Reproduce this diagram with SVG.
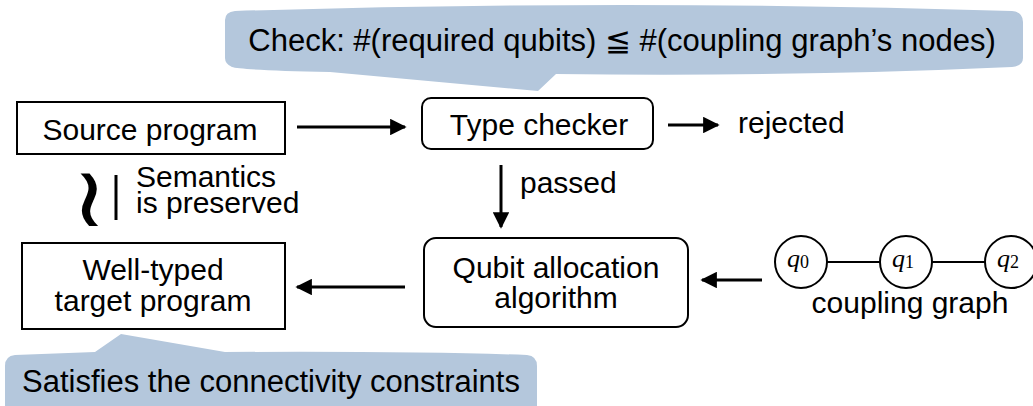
<svg xmlns="http://www.w3.org/2000/svg" width="1033" height="406" viewBox="0 0 1033 406">
<defs>
<style>
.t{font-family:"Liberation Sans",Arial,sans-serif;font-size:30px;fill:#000}
.c{font-size:31px}
.box{fill:#fff;stroke:#000;stroke-width:2}
.bub{fill:#b4c7dc;stroke:none}
.ln{stroke:#000;stroke-width:3;fill:none}
.edge{stroke:#000;stroke-width:2;fill:none}
.q{font-family:"Liberation Serif","Times New Roman",serif;font-size:26px;fill:#000}
</style>
<marker id="ah" viewBox="0 0 10 10" refX="9" refY="5" markerWidth="6" markerHeight="5.5" markerUnits="strokeWidth" orient="auto">
<path d="M0,0 L10,5 L0,10 Z" fill="#000"/>
</marker>
</defs>
<rect width="1033" height="406" fill="#fff"/>

<g id="callout-top">
<path class="bub" d="M225,20 Q225,12 235,11 Q624,-1 1012,11 Q1023,12 1023,22 L1023,58 Q1023,66 1012,67 Q790,77 556,74 L538,91 L330,72 Q240,70 232,67 Q225,64 225,58 Z"/>
<text class="t c" x="622" y="51" text-anchor="middle">Check: #(required qubits) ≦ #(coupling graph’s nodes)</text>
</g>

<g id="callout-bottom">
<path class="bub" d="M5,366 Q5,356 15,355 L95,352 L121,334 L225,352 Q420,351 527,355 Q537,356 537,366 L537,410 L5,410 Z"/>
<text class="t c" x="271" y="392" text-anchor="middle">Satisfies the connectivity constraints</text>
</g>

<g id="source">
<rect class="box" x="17" y="102" width="268" height="52"/>
<text class="t" x="150" y="140" text-anchor="middle">Source program</text>
</g>

<g id="typechecker">
<rect class="box" x="422" y="98" width="231" height="51" rx="9"/>
<text class="t" x="539" y="135" text-anchor="middle">Type checker</text>
</g>

<g id="rejected">
<text class="t" x="738" y="133">rejected</text>
</g>

<g id="qubitalloc">
<rect class="box" x="424" y="238" width="264" height="89" rx="12"/>
<text class="t" x="556" y="278" text-anchor="middle">Qubit allocation</text>
<text class="t" x="556" y="308" text-anchor="middle">algorithm</text>
</g>

<g id="target">
<rect class="box" x="22" y="243" width="263" height="86"/>
<text class="t" x="153" y="280" text-anchor="middle">Well-typed</text>
<text class="t" x="153" y="311" text-anchor="middle">target program</text>
</g>

<g id="semantics">
<text x="0" y="0" font-family="DejaVu Sans,sans-serif" font-size="60" text-anchor="middle" dominant-baseline="central" transform="translate(89,197) scale(1.7,1.4)">≀</text>
<line x1="116" y1="175" x2="116" y2="220" stroke="#000" stroke-width="3"/>
<text class="t" x="136" y="187">Semantics</text>
<text class="t" x="136" y="213">is preserved</text>
</g>

<g id="passed">
<text class="t" x="520" y="193">passed</text>
</g>

<g id="coupling-graph">
<line class="edge" x1="827" y1="262" x2="880" y2="262"/>
<line class="edge" x1="932" y1="262" x2="985" y2="262"/>
<g id="q0"><circle class="box" cx="801" cy="262" r="26"/><text class="q" x="798" y="267" text-anchor="middle"><tspan font-style="italic">q</tspan><tspan font-size="18" dy="1">0</tspan></text></g>
<g id="q1"><circle class="box" cx="906" cy="262" r="26"/><text class="q" x="903" y="267" text-anchor="middle"><tspan font-style="italic">q</tspan><tspan font-size="18" dy="1">1</tspan></text></g>
<g id="q2"><circle class="box" cx="1011" cy="262" r="26"/><text class="q" x="1008" y="267" text-anchor="middle"><tspan font-style="italic">q</tspan><tspan font-size="18" dy="1">2</tspan></text></g>
<text class="t" x="910" y="313" text-anchor="middle">coupling graph</text>
</g>

<g id="connectors">
<line class="ln" x1="297" y1="127" x2="405" y2="127" marker-end="url(#ah)"/>
<line class="ln" x1="668" y1="125" x2="718" y2="125" marker-end="url(#ah)"/>
<line class="ln" x1="501" y1="165" x2="501" y2="227" marker-end="url(#ah)"/>
<line class="ln" x1="762" y1="280" x2="702" y2="280" marker-end="url(#ah)"/>
<line class="ln" x1="405" y1="287" x2="297" y2="287" marker-end="url(#ah)"/>
</g>
</svg>
